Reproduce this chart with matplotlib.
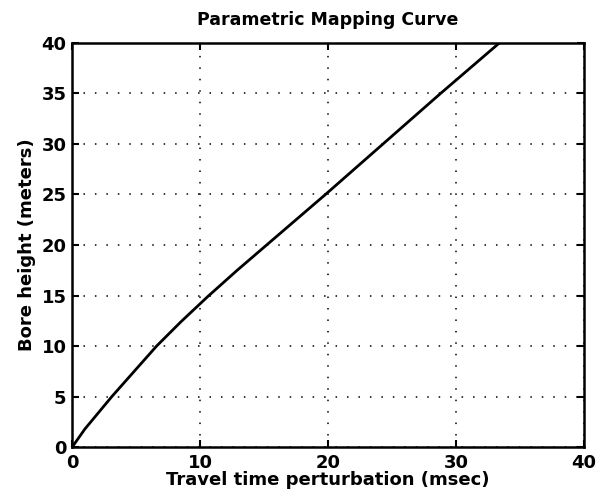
import matplotlib
matplotlib.use("Agg")
import matplotlib.pyplot as plt

# values
travel_time = [0.0, 1.0, 3.1, 6.6, 8.5, 10.6, 12.9, 15.2, 19.8, 24.3, 28.8, 33.4]
bore_height = [0.0, 1.8, 5.0, 10.0, 12.4, 14.9, 17.5, 20.0, 25.0, 30.0, 35.0, 40.0]
x_ticks = [0, 10, 20, 30, 40]
y_ticks = [0, 5, 10, 15, 20, 25, 30, 35, 40]

plt.rcParams["font.family"] = ["DejaVu Sans"]

fig = plt.figure(figsize=(5.96, 5.03), dpi=100)
ax = fig.add_axes([0.121, 0.111, 0.859, 0.804])

ax.plot(travel_time, bore_height, color="black", linewidth=2.0)

ax.set_xlim(0, 40)
ax.set_ylim(0, 40)
ax.set_xticks(x_ticks)
ax.set_yticks(y_ticks)
ax.grid(True, color="black", linestyle=(0, (1, 6.5)), linewidth=1.1)
ax.tick_params(direction="in", length=5, width=1.5, top=True, right=True,
               labelsize=13)
ax.tick_params(axis="x", pad=5)
ax.tick_params(axis="y", pad=4)
for label in ax.get_xticklabels() + ax.get_yticklabels():
    label.set_fontweight("bold")
for spine in ax.spines.values():
    spine.set_linewidth(1.8)

ax.set_title("Parametric Mapping Curve", fontsize=12.5, fontweight="bold", pad=13)
ax.set_xlabel("Travel time perturbation (msec)", fontsize=13, fontweight="bold",
              labelpad=-1)
ax.set_ylabel("Bore height (meters)", fontsize=13, fontweight="bold", labelpad=4)

fig.savefig("out.png", dpi=100)
